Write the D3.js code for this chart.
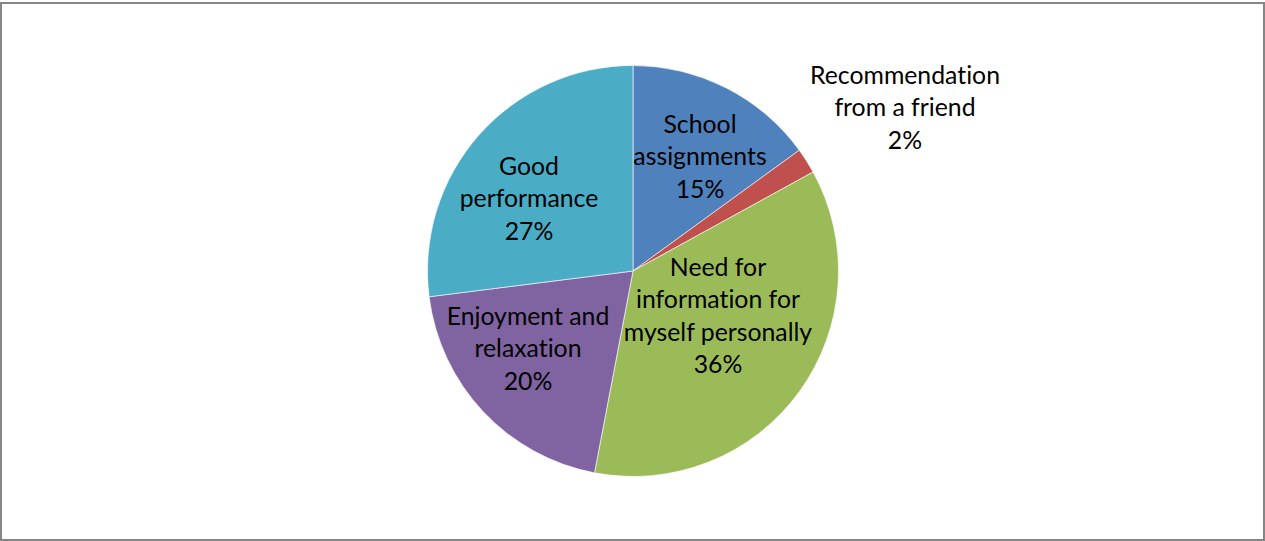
<!DOCTYPE html>
<html>
<head>
<meta charset="utf-8">
<script src="https://cdn.jsdelivr.net/npm/d3@7"></script>
<style>
  html, body { margin: 0; padding: 0; background: #fff; }
  svg { display: block; }
  text { font-family: Lato, "Open Sans", sans-serif; fill: #000; font-variant-ligatures: none; font-feature-settings: "liga" 0, "dlig" 0; }
</style>
</head>
<body>
<svg id="chart" width="1265" height="541"></svg>
<script>
// Reasons for reading, share of responses (%)
const categories = [
  "School assignments",
  "Recommendation from a friend",
  "Need for information for myself personally",
  "Enjoyment and relaxation",
  "Good performance"
];
const values = [15, 2, 36, 20, 27];
// Label lines as shown on the chart (the percentage is appended below them)
const labelLines = [
  ["School", "assignments"],
  ["Recommendation", "from a friend"],
  ["Need for", "information for", "myself personally"],
  ["Enjoyment and", "relaxation"],
  ["Good", "performance"]
];
const colors = ["#4F81BD", "#C0504D", "#9BBB59", "#8064A2", "#4BACC6"];

// Layout
const W = 1265, H = 541;
const cx = 633, cy = 271, radius = 205.5;
const lineH = 32.3, fontSize = 24.8;
// label anchor: horizontal centre and first baseline, relative to the pie centre
const labelOffsets = [
  [67, -138],
  [272, -187],
  [85, 5],
  [-105, 54],
  [-104, -96]
];

const svg = d3.select("#chart");

// chart area frame
svg.append("rect")
  .attr("x", 1).attr("y", 3)
  .attr("width", W - 2).attr("height", H - 4)
  .attr("fill", "#fff")
  .attr("stroke", "#868686")
  .attr("stroke-width", 2);

const data = categories.map((c, i) => ({ name: c, value: values[i], lines: labelLines[i], color: colors[i] }));

const pie = d3.pie().sort(null).value(d => d.value).startAngle(0).endAngle(2 * Math.PI);
const arc = d3.arc().innerRadius(0).outerRadius(radius);

const g = svg.append("g").attr("transform", `translate(${cx},${cy})`);

g.selectAll("path.slice")
  .data(pie(data))
  .join("path")
  .attr("class", "slice")
  .attr("d", arc)
  .attr("fill", d => d.data.color)
  .attr("stroke", "#fff")
  .attr("stroke-width", 0.6);

const total = d3.sum(values);
const fmt = v => Math.round(v / total * 100) + "%";

const labels = g.selectAll("text.label")
  .data(pie(data))
  .join("text")
  .attr("class", "label")
  .attr("text-anchor", "middle")
  .style("font-size", fontSize + "px");

labels.each(function (d, i) {
  const lines = d.data.lines.concat([fmt(d.data.value)]);
  const [ox, oy] = labelOffsets[i];
  d3.select(this).selectAll("tspan")
    .data(lines)
    .join("tspan")
    .attr("x", ox)
    .attr("y", (l, k) => oy + k * lineH)
    .text(l => l);
});
</script>
</body>
</html>
